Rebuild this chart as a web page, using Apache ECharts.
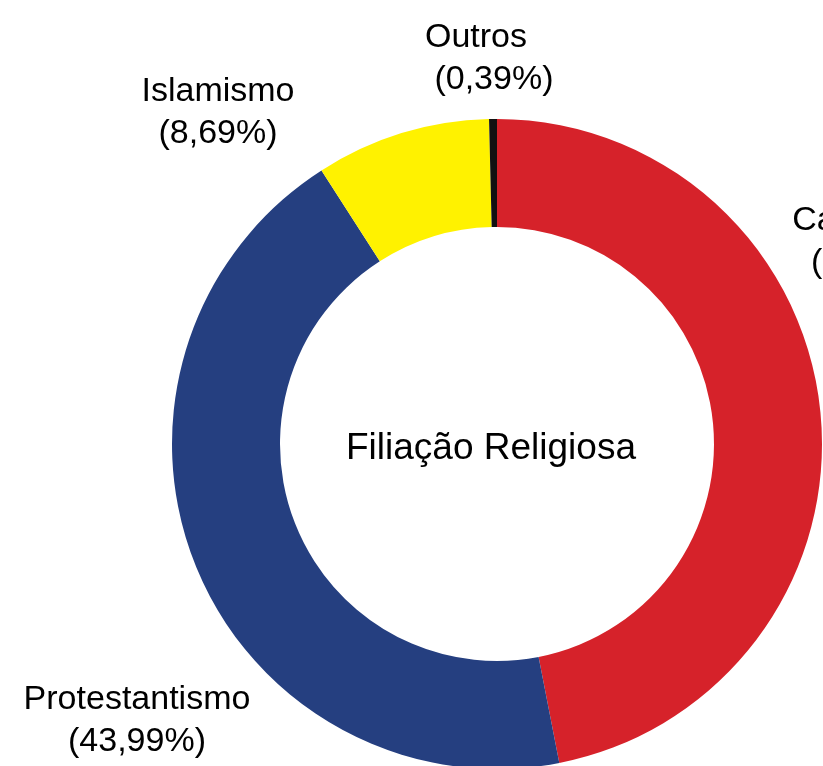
<!DOCTYPE html>
<html>
<head>
<meta charset="utf-8">
<script src="https://cdn.jsdelivr.net/npm/echarts@6/dist/echarts.min.js"></script>
<style>
  html, body { margin: 0; padding: 0; background: #fff; }
  #chart { width: 823px; height: 766px; }
</style>
</head>
<body>
<div id="chart"></div>
<script>
// Religious affiliation shares (percent)
const categories = ['Catolicismo', 'Protestantismo', 'Islamismo', 'Outros'];
const shares = [46.93, 43.99, 8.69, 0.39];
const shareLabels = ['46,93%', '43,99%', '8,69%', '0,39%'];
const sliceColors = ['#d6222a', '#253f80', '#fff200', '#111111'];

// Where each two-line label sits
const labelSpots = {
  'Catolicismo':    { x: 880, y: 242, align: 'center' },
  'Protestantismo': { x: 137, y: 721, align: 'center' },
  'Islamismo':      { x: 218, y: 113, align: 'center' },
  'Outros':         { x: 425, y: 59,  align: 'left' }
};

const chart = echarts.init(document.getElementById('chart'), null, { renderer: 'canvas' });

chart.setOption({
  backgroundColor: '#ffffff',
  animation: false,
  title: {
    text: 'Filiação Religiosa',
    left: 486,
    top: 444,
    textAlign: 'center',
    textVerticalAlign: 'middle',
    textStyle: {
      fontFamily: 'Liberation Sans, Arial, sans-serif',
      fontSize: 37,
      fontWeight: 'normal',
      color: '#000'
    }
  },
  series: [{
    type: 'pie',
    center: [497, 444],
    radius: [217, 325],
    startAngle: 90,
    clockwise: true,
    avoidLabelOverlap: false,
    data: categories.map((name, i) => ({
      name: name,
      value: shares[i],
      itemStyle: { color: sliceColors[i] }
    })),
    label: {
      show: true,
      position: 'outside',
      formatter: p => p.name + '\n' + (labelSpots[p.name].align === 'left' ? ' ' : '') + '(' + shareLabels[p.dataIndex] + ')',
      fontFamily: 'Liberation Sans, Arial, sans-serif',
      fontSize: 34,
      lineHeight: 42,
      color: '#000'
    },
    labelLine: { show: false },
    labelLayout: function (params) {
      const s = labelSpots[categories[params.dataIndex]];
      return { x: s.x, y: s.y, align: s.align, verticalAlign: 'middle' };
    },
    emphasis: { disabled: true }
  }]
});
</script>
</body>
</html>
